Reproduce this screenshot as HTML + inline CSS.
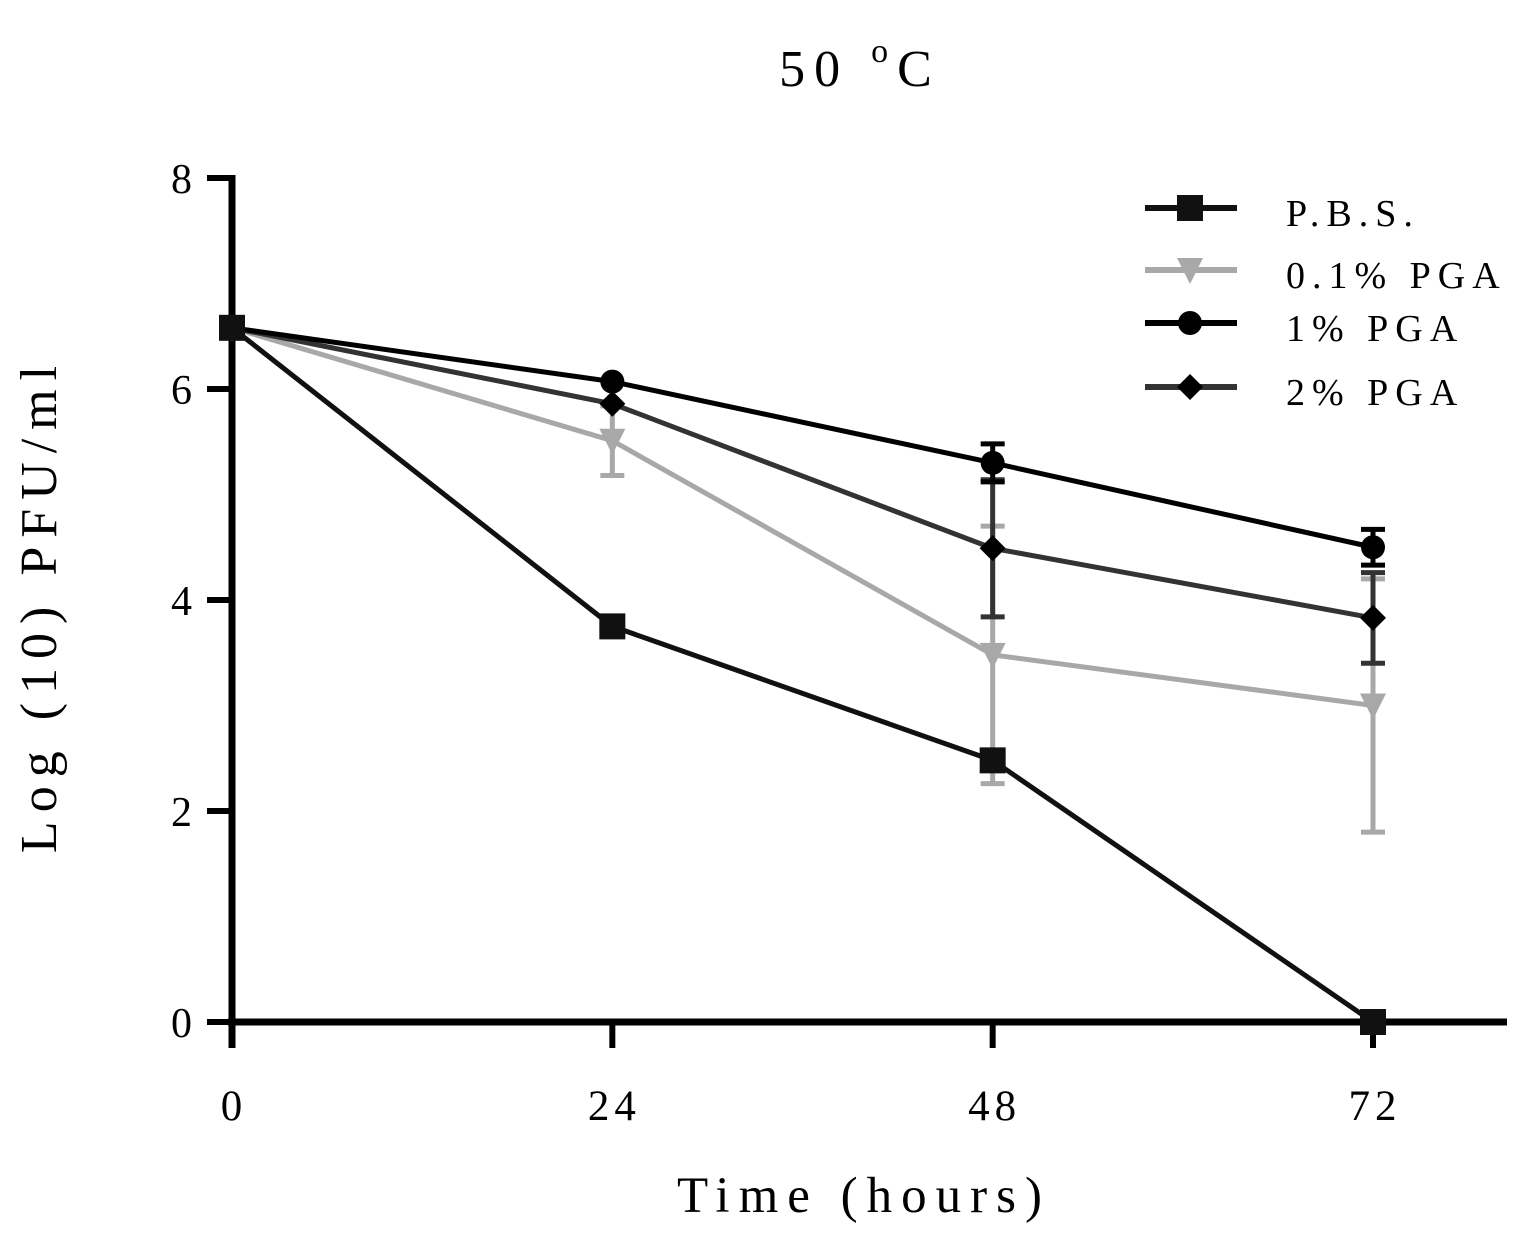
<!DOCTYPE html>
<html><head><meta charset="utf-8"><style>
html,body{margin:0;padding:0;background:#fff;}
svg text{font-family:"Liberation Serif",serif;fill:#000;}
</style></head><body>
<svg id="chart" width="1524" height="1232" xmlns="http://www.w3.org/2000/svg">
<text x="860" y="86" font-size="52" letter-spacing="9" text-anchor="middle">50 <tspan font-size="34" dy="-24">o</tspan><tspan dy="24">C</tspan></text>
<text transform="translate(56,605) rotate(-90)" font-size="52" letter-spacing="9" text-anchor="middle">Log (10) PFU/ml</text>
<text x="864" y="1212" font-size="51" letter-spacing="9" text-anchor="middle">Time (hours)</text>
<g id="axes"></g>
<g id="series"></g>
<g id="legend"></g>
</svg>
<script>
const xCats=[0,24,48,72];
const yTicks=[0,2,4,6,8];
const names=["P.B.S.","0.1% PGA","1% PGA","2% PGA"];
const pbs=[6.58,3.75,2.48,0];
const pga01=[6.58,5.51,3.48,3.0];
const pga1=[6.58,6.07,5.30,4.50];
const pga2=[6.58,5.86,4.49,3.83];
const errPbs=[0,0,0,0];
const err01=[0,0.33,1.22,1.2];
const err1=[0,0,0.18,0.17];
const err2=[0,0,0.65,0.43];
const NS="http://www.w3.org/2000/svg";
const X=v=>232+v*(1373-232)/72;
const Y=v=>1022-v*105.5;
function mk(tag,attrs,parent){const e=document.createElementNS(NS,tag);for(const k in attrs)e.setAttribute(k,attrs[k]);parent.appendChild(e);return e;}
const axes=document.getElementById('axes');
let e;
e=mk('line',{x1:232,y1:175,x2:232,y2:1048,stroke:'#000','stroke-width':7},axes);


e=mk('line',{x1:228,y1:1022,x2:1507,y2:1022,stroke:'#000','stroke-width':7},axes);


yTicks.forEach(v=>{
 e=mk('line',{x1:207,y1:Y(v),x2:232,y2:Y(v),stroke:'#000','stroke-width':6},axes);
 
 
 e=mk('text',{x:192,y:Y(v)+15,'font-size':42,'text-anchor':'end'},axes);
 e.textContent=v;
 
 
});
xCats.forEach(v=>{
 e=mk('line',{x1:X(v),y1:1022,x2:X(v),y2:1048,stroke:'#000','stroke-width':6},axes);
 
 
 e=mk('text',{x:X(v)+2,y:1120,'font-size':43,'text-anchor':'middle','letter-spacing':5},axes);
 e.textContent=v;
 
 
});
const series=[
 {vals:pbs,err:errPbs,color:'#111',marker:'square',name:'pbs'},
 {vals:pga01,err:err01,color:'#a8a8a8',marker:'tri',name:'pga-0-1'},
 {vals:pga2,err:err2,color:'#333',marker:'diamond',name:'pga-2'},
 {vals:pga1,err:err1,color:'#000',marker:'circle',name:'pga-1'}
];
const sg=document.getElementById('series');
function marker(g,type,x,y){
 let m;
 if(type==='square')m=mk('rect',{x:x-13,y:y-13,width:26,height:26,fill:'#111'},g);
 else if(type==='tri')m=mk('polygon',{points:`${x-13},${y-12} ${x+13},${y-12} ${x},${y+14}`,fill:'#a8a8a8'},g);
 else if(type==='circle')m=mk('circle',{cx:x,cy:y,r:12,fill:'#000'},g);
 else m=mk('polygon',{points:`${x},${y-13} ${x+13},${y} ${x},${y+13} ${x-13},${y}`,fill:'#000'},g);
 return m;
}
series.forEach(s=>{
 s.vals.forEach((v,i)=>{
  if(!s.err[i])return;
  const x=X(xCats[i]),y1=Y(v+s.err[i]),y2=Y(v-s.err[i]);
  e=mk('line',{x1:x,y1:y1,x2:x,y2:y2,stroke:s.color,'stroke-width':5},sg);
  
  
  [y1,y2].forEach(yy=>{
   e=mk('line',{x1:x-12,y1:yy,x2:x+12,y2:yy,stroke:s.color,'stroke-width':5},sg);
   
   
  });
 });
});
series.forEach(s=>{
 e=mk('polyline',{points:s.vals.map((v,i)=>X(xCats[i])+','+Y(v)).join(' '),fill:'none',stroke:s.color,'stroke-width':5},sg);
 
 
});
[series[1],series[2],series[3],series[0]].forEach(s=>{
 s.vals.forEach((v,i)=>{
  e=marker(sg,s.marker,X(xCats[i]),Y(v));
  
  
 });
});
const lg=document.getElementById('legend');
const legRows=[{y:208,c:'#111',m:'square'},{y:270,c:'#a8a8a8',m:'tri'},{y:323,c:'#000',m:'circle'},{y:387,c:'#333',m:'diamond'}];
legRows.forEach((r,i)=>{
 e=mk('line',{x1:1145,y1:r.y,x2:1237,y2:r.y,stroke:r.c,'stroke-width':6},lg);
 
 
 e=marker(lg,r.m,1190,r.y);
 
 
 e=mk('text',{x:1286,y:r.y+18,'font-size':38,'letter-spacing':7},lg);
 e.textContent=names[i];
 
 
});
</script>
</body></html>
